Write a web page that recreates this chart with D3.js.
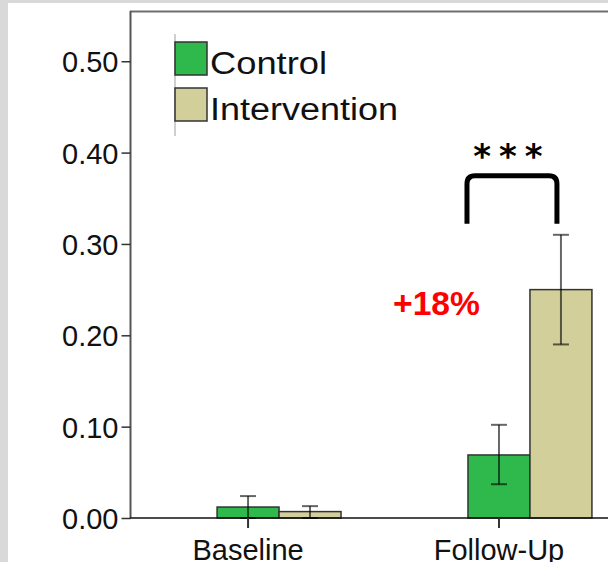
<!DOCTYPE html>
<html>
<head>
<meta charset="utf-8">
<script src="https://cdn.jsdelivr.net/npm/d3@7"></script>
<style>
  html, body { margin: 0; padding: 0; background: #d9d9d9; }
  svg { display: block; }
</style>
</head>
<body>
<script>
// Chart data
const categories = ["Baseline", "Follow-Up"];
const seriesNames = ["Control", "Intervention"];
const controlMean = [0.012, 0.069];
const controlLow = [0.000, 0.037];
const controlHigh = [0.024, 0.102];
const interventionMean = [0.007, 0.250];
const interventionLow = [0.000, 0.190];
const interventionHigh = [0.013, 0.310];
const yTicks = [0.0, 0.1, 0.2, 0.3, 0.4, 0.5];
const diffLabel = "+18%";
const sigLabel = "***";

const colors = { Control: "#2fb84b", Intervention: "#d3cf9b" };

const W = 608, H = 562;
const svg = d3.select("body").append("svg").attr("width", W).attr("height", H);

// white panel inside the grey border
svg.append("rect").attr("x", 8).attr("y", 3).attr("width", W - 8).attr("height", H - 3).attr("fill", "#fff");

const plotLeft = 130, plotTop = 11, plotBottom = 518;

const y = d3.scaleLinear().domain([0, 0.555]).range([plotBottom, plotTop]);
const x0 = d3.scaleBand().domain(categories).range([plotLeft, 679]).paddingInner(0.506).paddingOuter(0.347);
const x1 = d3.scaleBand().domain(seriesNames).range([0, x0.bandwidth()]);

const rows = [];
categories.forEach((c, i) => {
  rows.push({ cat: c, s: "Control", v: controlMean[i], lo: controlLow[i], hi: controlHigh[i] });
  rows.push({ cat: c, s: "Intervention", v: interventionMean[i], lo: interventionLow[i], hi: interventionHigh[i] });
});

// frame: top border and y axis
svg.append("line").attr("x1", plotLeft).attr("x2", W).attr("y1", plotTop + 0.5).attr("y2", plotTop + 0.5)
  .attr("stroke", "#6e6e6e").attr("stroke-width", 2);

// y axis
const yAxis = svg.append("g").attr("transform", `translate(${plotLeft + 0.5},0)`)
  .call(d3.axisLeft(y).tickValues(yTicks).tickFormat(d3.format(".2f")).tickSize(9).tickSizeOuter(0));
yAxis.select(".domain").attr("stroke", "#555").attr("stroke-width", 2).attr("d", `M0,${plotTop}V${plotBottom}`);
yAxis.selectAll(".tick line").attr("stroke", "#333").attr("stroke-width", 1.5);
yAxis.selectAll(".tick text").attr("font-family", "Liberation Sans, Arial, sans-serif")
  .attr("font-size", 29).attr("fill", "#111").attr("x", -12).attr("dy", "0.36em");

// bars
const bars = svg.append("g");
bars.selectAll("rect").data(rows).join("rect")
  .attr("x", d => x0(d.cat) + x1(d.s))
  .attr("y", d => y(d.v))
  .attr("width", x1.bandwidth())
  .attr("height", d => y(0) - y(d.v))
  .attr("fill", d => colors[d.s])
  .attr("stroke", "#333")
  .attr("stroke-width", 1.5);

// x axis line
svg.append("line").attr("x1", plotLeft).attr("x2", W).attr("y1", plotBottom).attr("y2", plotBottom)
  .attr("stroke", "#111").attr("stroke-width", 1.5);

// error bars
const eb = svg.append("g").attr("stroke", "rgba(0,0,0,0.6)").attr("stroke-width", 2);
rows.forEach(d => {
  const cx = x0(d.cat) + x1(d.s) + x1.bandwidth() / 2;
  eb.append("line").attr("x1", cx).attr("x2", cx).attr("y1", y(d.hi)).attr("y2", y(d.lo));
  eb.append("line").attr("x1", cx - 8).attr("x2", cx + 8).attr("y1", y(d.hi)).attr("y2", y(d.hi));
  eb.append("line").attr("x1", cx - 8).attr("x2", cx + 8).attr("y1", y(d.lo)).attr("y2", y(d.lo));
});

// x ticks and labels (at the first series of each group)
const xg = svg.append("g");
categories.forEach(c => {
  const cx = x0(c) + x1("Control") + x1.bandwidth() / 2;
  xg.append("line").attr("x1", cx).attr("x2", cx).attr("y1", plotBottom).attr("y2", plotBottom + 10)
    .attr("stroke", "#333").attr("stroke-width", 2);
  xg.append("text").attr("x", cx).attr("y", plotBottom + 42).attr("text-anchor", "middle")
    .attr("font-family", "Liberation Sans, Arial, sans-serif").attr("font-size", 29).attr("fill", "#111")
    .text(c);
});

// legend
const lg = svg.append("g");
lg.append("line").attr("x1", 175).attr("x2", 175).attr("y1", 34).attr("y2", 136)
  .attr("stroke", "#cfcfcf").attr("stroke-width", 2);
seriesNames.forEach((s, i) => {
  const top = 42 + i * 46;
  lg.append("rect").attr("x", 175).attr("y", top).attr("width", 32).attr("height", 33)
    .attr("fill", colors[s]).attr("stroke", "#333").attr("stroke-width", 1.5);
  lg.append("text").attr("x", 210).attr("y", top + 32)
    .attr("font-family", "Liberation Sans, Arial, sans-serif").attr("font-size", 31).attr("fill", "#111")
    .attr("textLength", s === "Control" ? 117 : 188).attr("lengthAdjust", "spacingAndGlyphs")
    .text(s);
});

// significance bracket over the Follow-Up pair
const fu = "Follow-Up";
const bx1 = x0(fu) + x1("Control") - 1;
const bx2 = x0(fu) + x1("Intervention") + x1.bandwidth() / 2 - 4;
const byBottom = y(interventionHigh[1]) - 11;
const byTop = byBottom - 48;
const r = 8;
svg.append("path")
  .attr("d", `M${bx1},${byBottom}V${byTop + r}Q${bx1},${byTop} ${bx1 + r},${byTop}H${bx2 - r}Q${bx2},${byTop} ${bx2},${byTop + r}V${byBottom}`)
  .attr("fill", "none").attr("stroke", "#000").attr("stroke-width", 5);
svg.append("text").attr("x", (bx1 + bx2) / 2).attr("y", byTop - 8).attr("text-anchor", "middle")
  .attr("font-family", "DejaVu Sans, sans-serif").attr("font-size", 34).attr("font-weight", "bold").attr("fill", "#000")
  .attr("letter-spacing", 8)
  .text(sigLabel);

// percentage change label
svg.append("text").attr("x", 393).attr("y", 315)
  .attr("font-family", "Liberation Sans, Arial, sans-serif").attr("font-size", 34).attr("font-weight", "bold")
  .attr("fill", "#ff0000").attr("textLength", 87).attr("lengthAdjust", "spacingAndGlyphs")
  .text(diffLabel);
</script>
</body>
</html>
